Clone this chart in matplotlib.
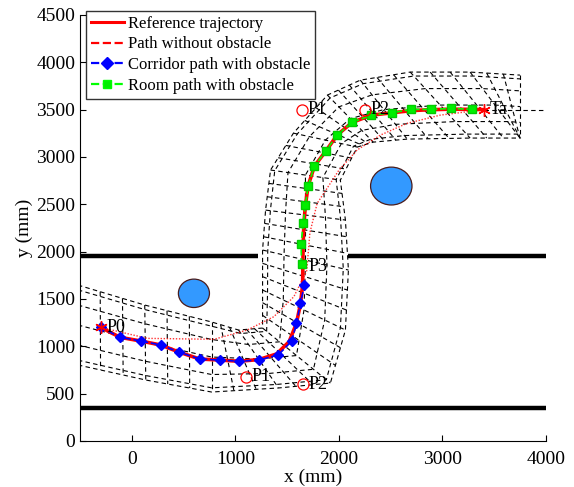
import numpy as np
import matplotlib.pyplot as plt
from matplotlib.patches import Ellipse
from matplotlib.lines import Line2D

plt.rcParams['font.family'] = ['Liberation Serif', 'DejaVu Serif']

# reference trajectory (mm)
ref_x = [-300, -113, 87, 280, 456, 655, 851, 1034, 1227, 1400, 1520, 1590, 1630, 1650, 1652,
         1655, 1662, 1677, 1703, 1764, 1876, 1983, 2127, 2313, 2513, 2699, 2892, 3081, 3290, 3400]
ref_y = [1200, 1095, 1056, 1014, 939, 866, 855, 842, 860, 920, 1050, 1243, 1454, 1650, 1866,
         2080, 2299, 2492, 2696, 2904, 3066, 3231, 3365, 3442, 3467, 3490, 3500, 3505, 3503, 3500]

# path planned without obstacle
free_x = [-300, 151, 793, 1115, 1372, 1565, 1690, 1720, 1790, 2000, 2175, 2400, 2657, 2978, 3400]
free_y = [1200, 1084, 1074, 1172, 1313, 1524, 1800, 2200, 2510, 2860, 3073, 3231, 3355, 3442, 3500]

# corridor path with obstacle
cor_x = [-300, -113, 87, 280, 456, 655, 851, 1034, 1227, 1414, 1545, 1590, 1629, 1667]
cor_y = [1200, 1095, 1056, 1014, 939, 866, 855, 842, 855, 908, 1056, 1243, 1454, 1647]

# room path with obstacle
room_x = [1639, 1635, 1655, 1677, 1703, 1764, 1876, 1983, 2127, 2313, 2513, 2699, 2892, 3081, 3290]
room_y = [1866, 2080, 2299, 2492, 2696, 2904, 3066, 3231, 3365, 3442, 3467, 3503, 3503, 3513, 3503]

# uncertainty corridor edges
side_a_x = [-520, 125, 771, 1031, 1263, 1263, 1263, 1292, 1340, 1561, 1889, 2207, 2689, 3267, 3749]
side_a_y = [1647, 1436, 1257, 1172, 1193, 1595, 2017, 2439, 2862, 3252, 3654, 3812, 3897, 3897, 3865]
side_b_x = [-520, 135, 771, 1417, 1918, 2063, 2092, 2063, 2014, 2178, 2332, 2660, 3267, 3749, 3749]
side_b_y = [803, 644, 517, 560, 612, 1172, 1806, 2334, 2756, 3105, 3157, 3189, 3200, 3200, 3200]

# waypoints (circle markers) and labels
wp_names = ['P1', 'P2', 'P1', 'P2']
wp_x = [1100, 1655, 1645, 2255]
wp_y = [680, 600, 3500, 3500]
lab_names = ['P0', 'P3']
lab_x = [-300, 1650]
lab_y = [1200, 1840]
target = (3400, 3500)

# walls and obstacles
wall_low_y = 350
wall_high_y = 1950
door = (1220, 2090)
obs_x = [600, 2506]
obs_y = [1560, 2693]
obs_r = [150, 200]

fig = plt.figure(figsize=(5.74, 4.87), dpi=100)
ax = fig.add_axes([0.1394, 0.0945, 0.8118, 0.8747])

# dashed corridor
ax_ = np.array(side_a_x, float); ay_ = np.array(side_a_y, float)
bx_ = np.array(side_b_x, float); by_ = np.array(side_b_y, float)
dash = dict(color='k', lw=0.8, ls=(0, (4, 3)))
ax.plot(ax_, ay_, **dash)
ax.plot(bx_, by_, **dash)
for f in [0.06, 0.25, 0.5, 0.75, 0.94]:
    ax.plot(ax_ + f * (bx_ - ax_), ay_ + f * (by_ - ay_), **dash)
for i in range(len(ax_)):
    ax.plot([ax_[i], bx_[i]], [ay_[i], by_[i]], **dash)
for i in range(len(ax_) - 1):
    for t in [1 / 3, 2 / 3]:
        mxa = ax_[i] + t * (ax_[i + 1] - ax_[i]); mya = ay_[i] + t * (ay_[i + 1] - ay_[i])
        mxb = bx_[i] + t * (bx_[i + 1] - bx_[i]); myb = by_[i] + t * (by_[i + 1] - by_[i])
        ax.plot([mxa, mxb], [mya, myb], **dash)
ax.plot([target[0], 3970], [target[1], target[1]], **dash)

# walls
ax.plot([-500, 4000], [wall_low_y, wall_low_y], color='k', lw=3.2, solid_capstyle='butt')
ax.plot([-500, door[0]], [wall_high_y, wall_high_y], color='k', lw=3.2, solid_capstyle='butt')
ax.plot([door[1], 4000], [wall_high_y, wall_high_y], color='k', lw=3.2, solid_capstyle='butt')

for cx, cy, r in zip(obs_x, obs_y, obs_r):
    ax.add_patch(Ellipse((cx, cy), 2 * r, 2 * r, facecolor='#3399ff', edgecolor='#4a1c1c', lw=0.9, zorder=3))

# paths
ax.plot(ref_x, ref_y, color='r', lw=2.6, zorder=4)
ax.plot(free_x, free_y, color='r', lw=1.0, ls=(0, (1, 1.2)), alpha=0.8, zorder=4)
ax.plot(cor_x, cor_y, color='b', lw=1.2, ls='--', marker='D', ms=5, mfc='b', mec='b', zorder=5)
ax.plot(room_x, room_y, color='#00ff00', lw=1.2, ls='--', marker='s', ms=6,
        mfc='#00ee00', mec='#00cc00', zorder=5)

ax.plot(wp_x, wp_y, ls='none', marker='o', ms=8, mfc='none', mec='r', mew=0.9, zorder=6)
ax.plot([target[0], lab_x[0]], [target[1], lab_y[0]], ls='none', marker=(6, 2, 0), ms=9,
        color='r', mew=1.0, zorder=6)
for n, x, y in zip(wp_names + lab_names, wp_x + lab_x, wp_y + lab_y):
    ax.text(x + 55, y, n, fontsize=13, ha='left', va='center', zorder=7)
ax.text(target[0] + 60, target[1], 'Ta', fontsize=13, ha='left', va='center', zorder=7)

ax.set_xlim(-500, 4000)
ax.set_ylim(0, 4500)
ax.set_xticks([0, 1000, 2000, 3000, 4000])
ax.set_yticks(np.arange(0, 4501, 500))
ax.tick_params(direction='in', labelsize=14, length=4)
ax.tick_params(axis='x', pad=7)
for s in ['top', 'right']:
    ax.spines[s].set_visible(False)
ax.set_xlabel('x (mm)', fontsize=14, labelpad=1)
ax.set_ylabel('y (mm)', fontsize=14, labelpad=2)

handles = [
    Line2D([], [], color='r', lw=2.2),
    Line2D([], [], color='r', lw=1.6, ls='--'),
    Line2D([], [], color='b', lw=1.6, ls='--', marker='D', ms=6),
    Line2D([], [], color='#00ff00', lw=1.6, ls='--', marker='s', ms=6, mfc='#00ee00'),
]
labels = ['Reference trajectory', 'Path without obstacle',
          'Corridor path with obstacle', 'Room path with obstacle']
leg = ax.legend(handles, labels, loc='upper left', bbox_to_anchor=(0.012, 1.01),
                fontsize=12, frameon=True, fancybox=False, edgecolor='k',
                handlelength=2.0, handletextpad=0.25, borderpad=0.3, labelspacing=0.28,
                borderaxespad=0)
leg.get_frame().set_linewidth(1.0)
leg.set_zorder(10)

fig.savefig('out.png', dpi=100)
